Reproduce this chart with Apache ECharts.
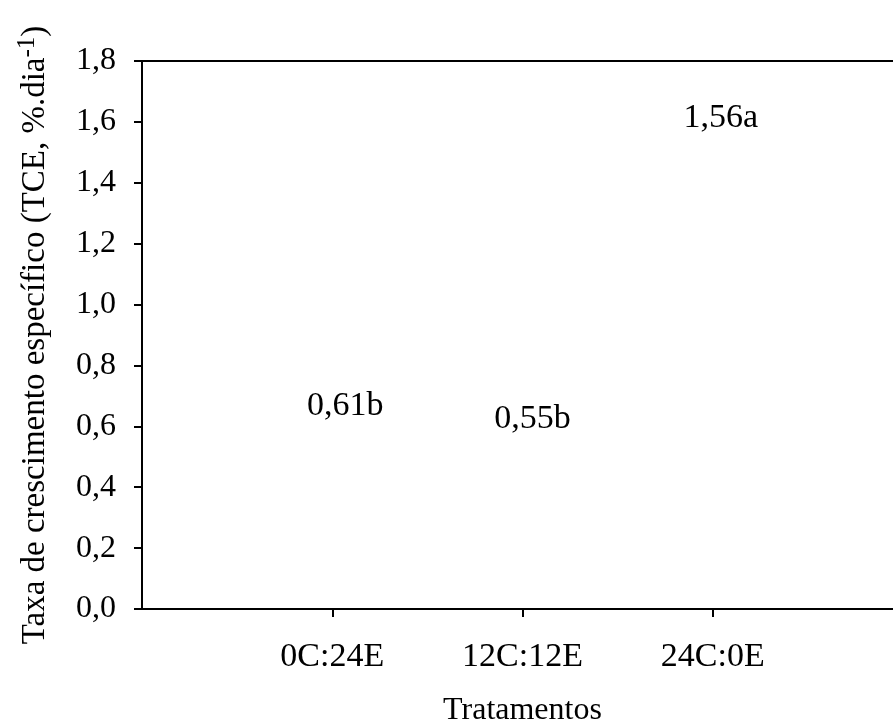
<!DOCTYPE html>
<html>
<head>
<meta charset="utf-8">
<script src="https://cdn.jsdelivr.net/npm/echarts@6/dist/echarts.min.js"></script>
<style>
html,body{margin:0;padding:0;background:#fff;}
#chart{width:893px;height:724px;}
</style>
</head>
<body>
<div id="chart"></div>
<script>
var categories = ['0C:24E', '12C:12E', '24C:0E'];
var values = [0.61, 0.55, 1.56];
var letters = ['b', 'b', 'a'];
var yTicks = [0, 0.2, 0.4, 0.6, 0.8, 1.0, 1.2, 1.4, 1.6, 1.8];

var FONT = 'Liberation Serif';
var labelDist = [0, 5, -2];
var labelShift = [13, 10, 8];

var chart = echarts.init(document.getElementById('chart'));
var seriesData = values.map(function (v, i) {
  return {
    value: [i + 1, v],
    label: {
      distance: labelDist[i],
      offset: [labelShift[i], 0],
      formatter: v.toFixed(2).replace('.', ',') + letters[i]
    }
  };
});

chart.setOption({
  animation: false,
  backgroundColor: '#fff',
  grid: {
    left: 142, top: 61, bottom: 115, right: -10,
    containLabel: false, outerBoundsMode: 'none',
    show: true, borderColor: '#000', borderWidth: 2, backgroundColor: 'transparent'
  },
  xAxis: {
    type: 'value',
    min: 0, max: categories.length + 1, interval: 1,
    name: 'Tratamentos',
    nameLocation: 'middle',
    nameGap: 86,
    nameTextStyle: { fontFamily: FONT, fontSize: 32, color: '#000' },
    axisLine: { show: true, lineStyle: { color: '#000', width: 2 } },
    axisTick: { show: true, length: 8, lineStyle: { color: '#000', width: 2 },
      customValues: categories.map(function (c, i) { return i + 1; }) },
    axisLabel: {
      fontFamily: FONT, fontSize: 34, color: '#000', margin: 31,
      customValues: categories.map(function (c, i) { return i + 1; }),
      formatter: function (v) { return categories[Math.round(v) - 1] || ''; }
    },
    splitLine: { show: false }
  },
  yAxis: {
    type: 'value',
    min: yTicks[0], max: yTicks[yTicks.length - 1], interval: 0.2,
    name: '{main|Taxa de crescimento específico (TCE, %.dia}{sup|-1}{main|)}',
    nameLocation: 'middle',
    nameRotate: 90,
    nameGap: 90,
    nameTextStyle: {
      fontFamily: FONT, fontSize: 33, color: '#000',
      rich: {
        main: { fontFamily: FONT, fontSize: 33, color: '#000', verticalAlign: 'bottom' },
        sup: { fontFamily: FONT, fontSize: 25, color: '#000', verticalAlign: 'bottom', padding: [0, 0, 12, 0] }
      }
    },
    axisLine: { show: true, lineStyle: { color: '#000', width: 2 } },
    axisTick: { show: true, length: 8, lineStyle: { color: '#000', width: 2 } },
    axisLabel: {
      fontFamily: FONT, fontSize: 32, color: '#000', margin: 26,
      formatter: function (v) { return v.toFixed(1).replace('.', ','); }
    },
    splitLine: { show: false }
  },
  series: [{
    type: 'scatter',
    data: seriesData,
    symbolSize: 1,
    itemStyle: { color: '#fff', opacity: 1 },
    label: {
      show: true, position: 'top',
      fontFamily: FONT, fontSize: 34, color: '#000', opacity: 1
    }
  }]
});
</script>
</body>
</html>
